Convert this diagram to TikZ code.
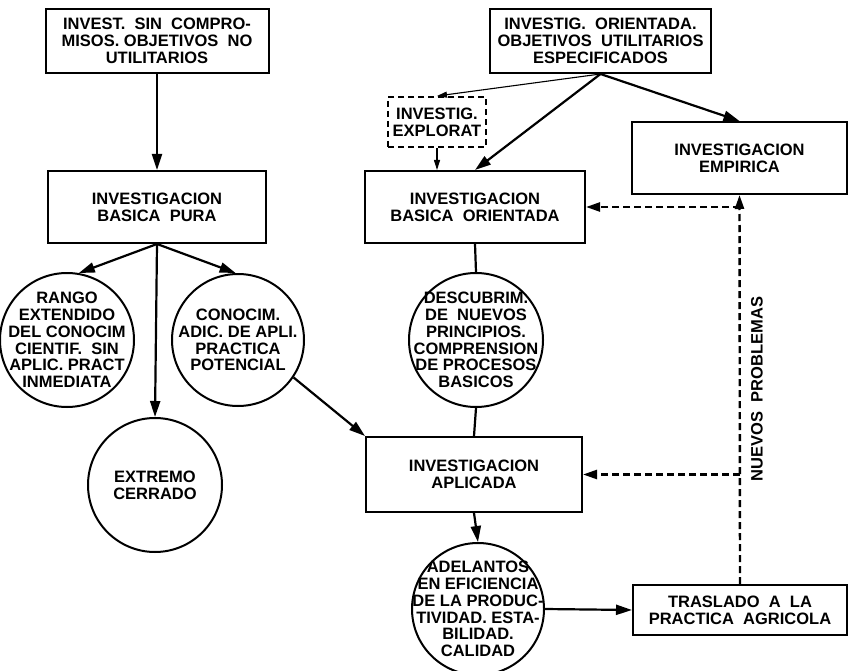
\documentclass[tikz,border=0pt]{standalone}
\usepackage{fontspec}
\setmainfont{Liberation Sans}
\usetikzlibrary{arrows.meta}
\begin{document}
\begin{tikzpicture}[x=1pt,y=-1pt,
  every node/.style={font=\bfseries\fontsize{16.5}{16.8}\selectfont, align=center, inner sep=0},
  box/.style={draw, line width=2, rectangle},
  dbox/.style={draw, line width=2, rectangle, dash pattern=on 6pt off 4pt},
  circ/.style={draw, line width=2, circle},
  arr/.style={line width=2.2, -{Triangle[length=16pt,width=10pt]}},
  tarr/.style={line width=1.1, -{Triangle[length=10pt,width=6pt]}},
  plain/.style={line width=2.2},
  darr/.style={line width=2.4, dash pattern=on 7pt off 4pt, -{Triangle[length=14pt,width=9pt]}}
]
\useasboundingbox (0,0) rectangle (848,671);
% boxes
\node[box, minimum width=223, minimum height=64] (A) at (157,41) {INVEST.\ \ SIN\ \ COMPRO-\\MISOS. OBJETIVOS\ \ NO\\UTILITARIOS};
\node[box, minimum width=218, minimum height=72] (B) at (157,207) {INVESTIGACION\\BASICA\ \ PURA};
\node[box, minimum width=221, minimum height=64] (C) at (600.5,41) {INVESTIG.\ \ ORIENTADA.\\OBJETIVOS\ \ UTILITARIOS\\ESPECIFICADOS};
\node[dbox, minimum width=98, minimum height=50] (Ex) at (437,122) {INVESTIG.\\EXPLORAT};
\node[box, minimum width=220, minimum height=72] (D) at (475,207) {INVESTIGACION\\BASICA\ \ ORIENTADA};
\node[box, minimum width=215, minimum height=72] (E) at (739.5,158) {INVESTIGACION\\EMPIRICA};
\node[box, minimum width=216, minimum height=75] (F) at (474,474.5) {INVESTIGACION\\APLICADA};
\node[box, minimum width=214, minimum height=50] (T) at (740,610) {TRASLADO\ \ A\ \ LA\\PRACTICA\ \ AGRICOLA};
% circles
\node[circ, minimum size=134] (L1) at (67,340) {};
\node (L1t) at (67,340) {RANGO\\EXTENDIDO\\DEL CONOCIM\\CIENTIF.\ \ SIN\\APLIC.\ PRACT\\INMEDIATA};
\node[circ, minimum size=132] (R1) at (238,340) {};
\node (R1t) at (238,340) {CONOCIM.\\ADIC. DE APLI.\\PRACTICA\\POTENCIAL};
\node[circ, minimum size=134] (X) at (155,485) {};
\node (Xt) at (155,485) {EXTREMO\\CERRADO};
\node[circ, minimum size=134] (Dc) at (476,340) {};
\node (Dct) at (476,340) {DESCUBRIM.\\DE\ \ NUEVOS\\PRINCIPIOS.\\COMPRENSION\\DE PROCESOS\\BASICOS};
\node[circ, minimum size=132] (Ad) at (478,609) {};
\node (Adt) at (478,609) {ADELANTOS\\EN EFICIENCIA\\DE LA PRODUC-\\TIVIDAD. ESTA-\\BILIDAD.\\CALIDAD};
\node[rotate=90] (np) at (757,389) {NUEVOS\ \ PROBLEMAS};
% connectors
\draw[arr] (A.south) -- (B.north);
\draw[arr] (B.south) -- (L1.80);
\draw[arr] (B.south) -- (R1.92);
\draw[arr] (B.south) -- (X.north);
\draw[tarr] (C.south) -- (Ex.north);
\draw[arr] (C.south) -- (D.north);
\draw[arr] (C.south) -- (E.north);
\draw[tarr] (Ex.south) -- (Ex.south |- D.north);
\draw[plain] (D.south) -- (Dc.north);
\draw[plain] (Dc.south) -- (F.north);
\draw[arr] (R1.-34) -- (F.north west);
\draw[arr] (F.south) -- (Ad.north);
\draw[arr] (Ad.east) -- (T.west);
\coordinate (j1) at (T.north |- D.east);
\coordinate (j2) at (T.north |- F.east);
\draw[darr] (T.north) -- (E.south);
\draw[darr] (j1) -- (D.east);
\draw[darr] (j2) -- (F.east);
\end{tikzpicture}
\end{document}
